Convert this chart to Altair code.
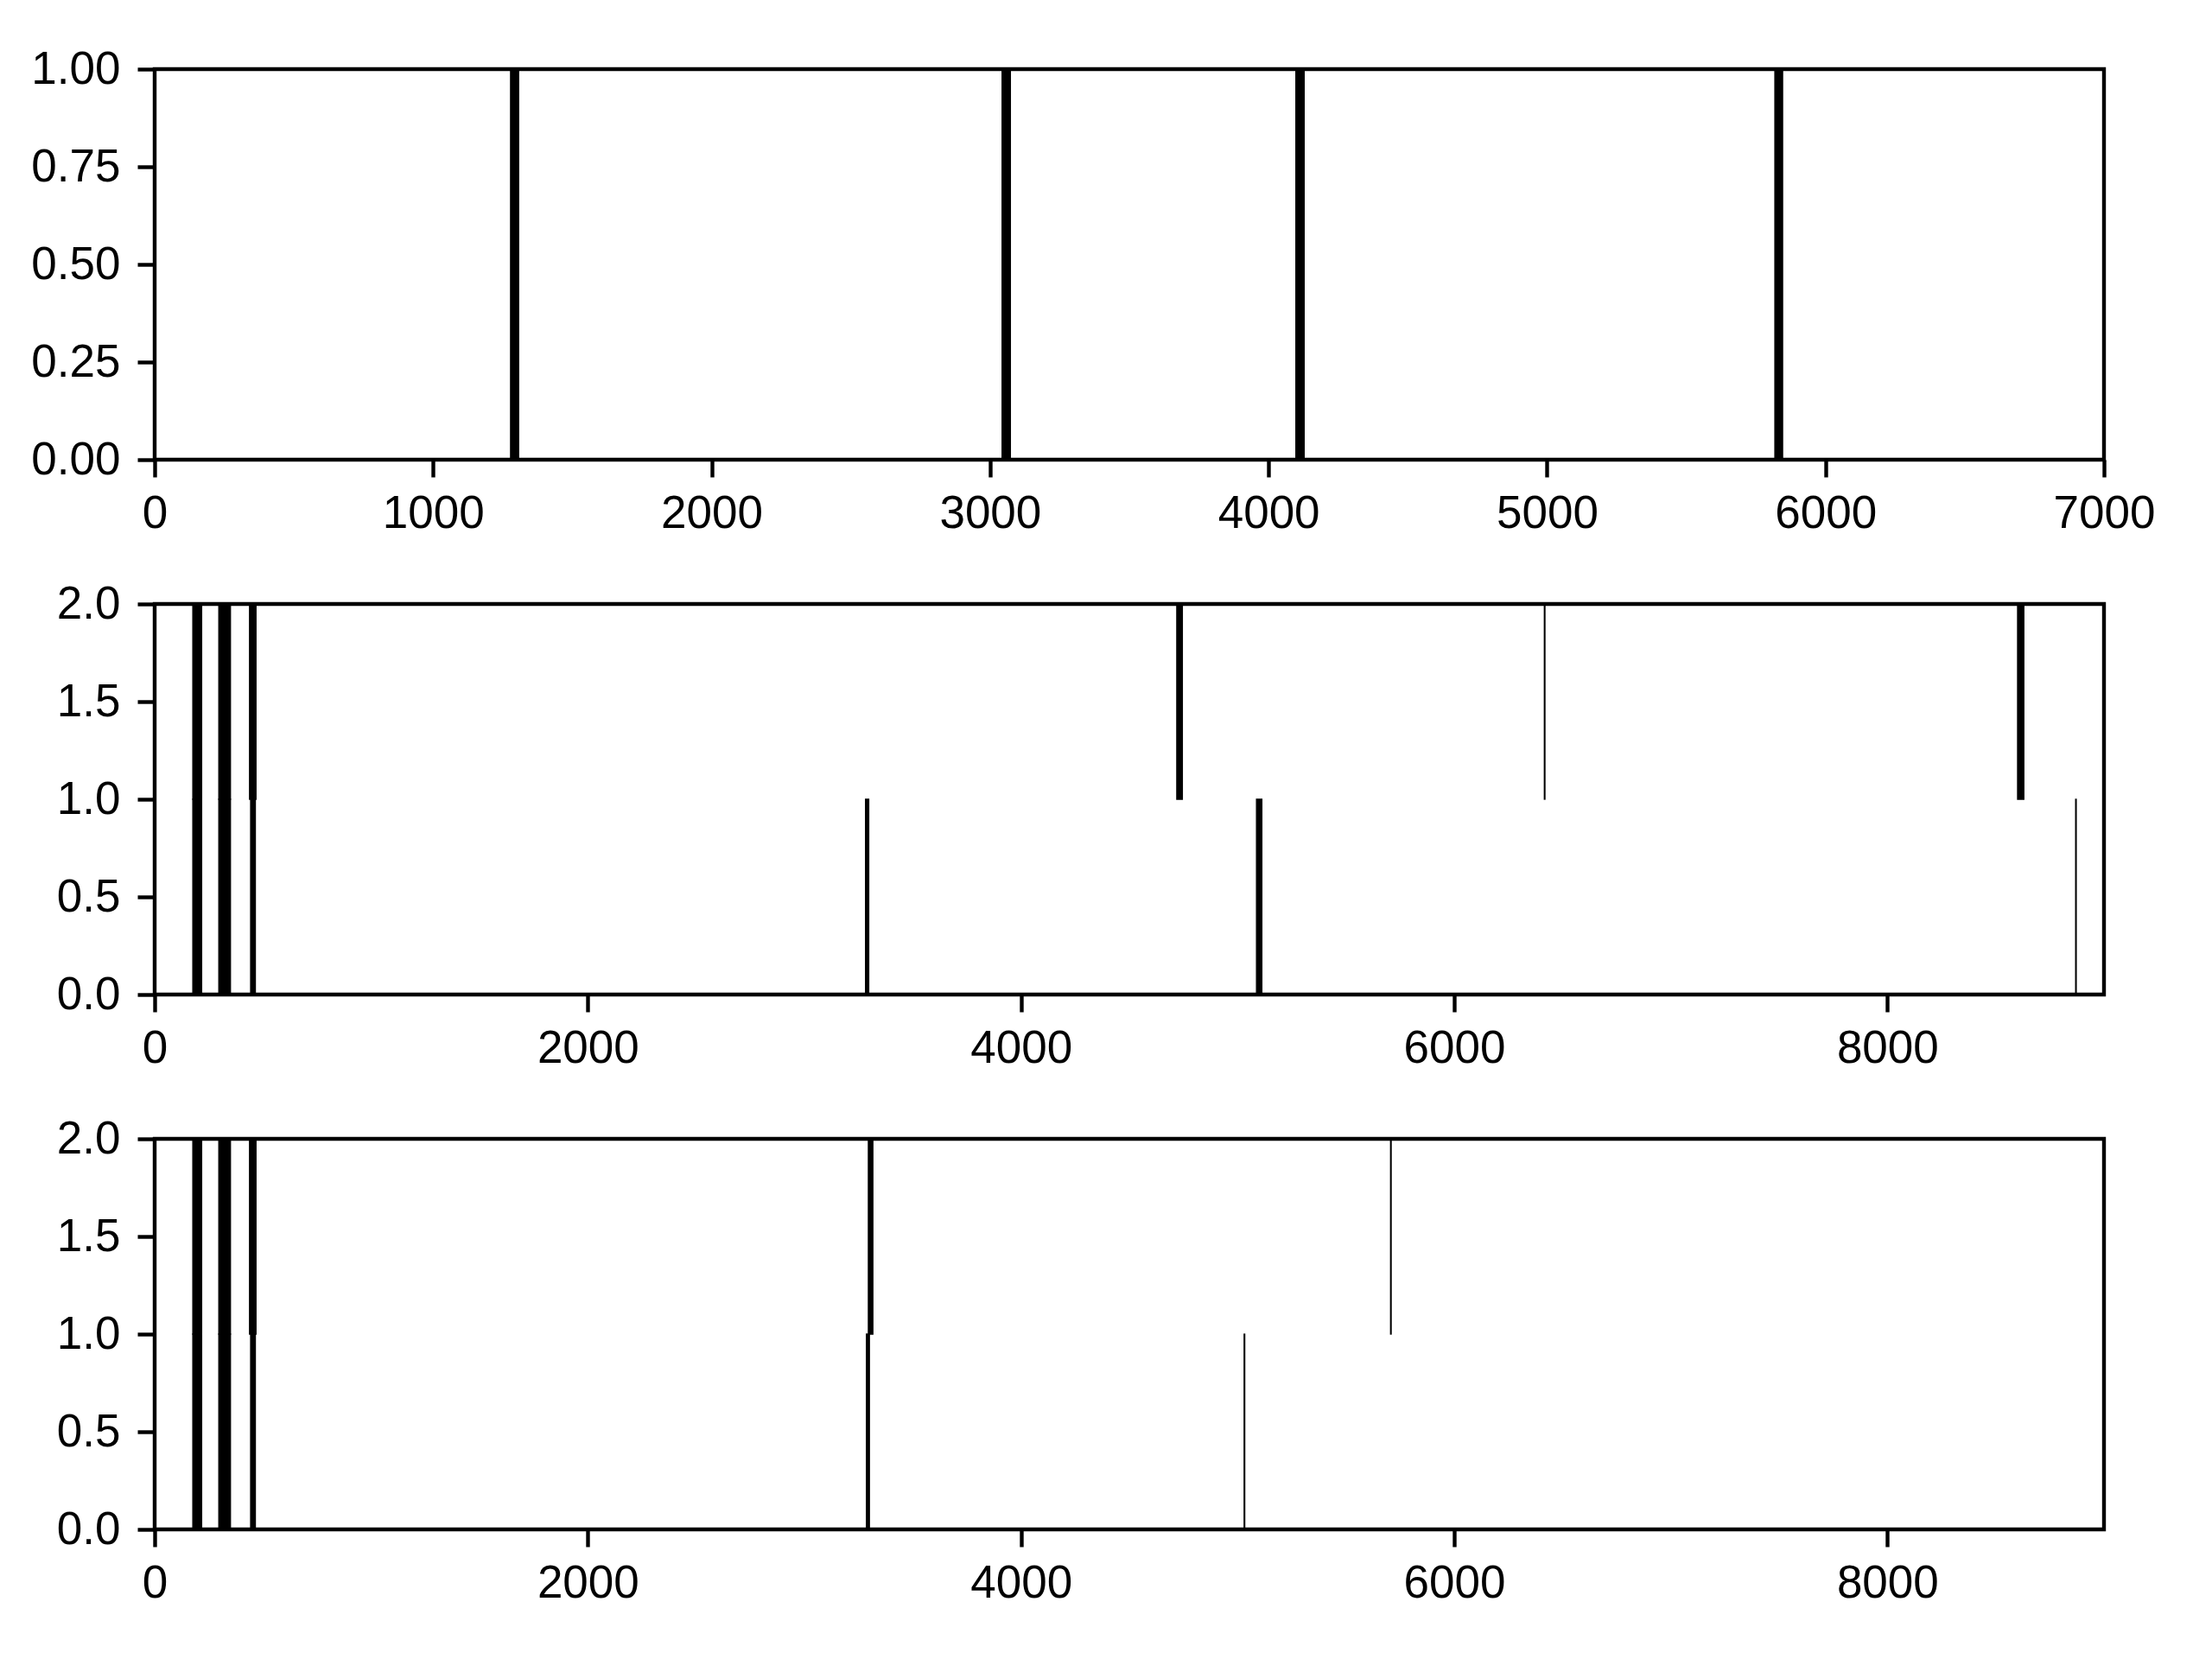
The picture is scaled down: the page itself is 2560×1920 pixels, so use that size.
import altair as alt
import pandas as pd

# ---- data ----
top_start = [1278, 3043, 4098, 5818]
top_end = [1307, 3073, 4128, 5846]

mid_row1_start = [176, 296, 438, 4719, 6416, 8601]
mid_row1_end = [217, 350, 468, 4745, 6419, 8630]
mid_row0_start = [176, 296, 443, 3282, 5087, 8869]
mid_row0_end = [217, 350, 465, 3297, 5112, 8872]

bot_row1_start = [176, 296, 438, 3295, 5706]
bot_row1_end = [217, 350, 468, 3316, 5709]
bot_row0_start = [176, 296, 443, 3286, 5030]
bot_row0_end = [217, 350, 465, 3300, 5033]

top_xticks = [0, 1000, 2000, 3000, 4000, 5000, 6000, 7000]
top_yticks = [0, 0.25, 0.5, 0.75, 1.0]
low_xticks = [0, 2000, 4000, 6000, 8000]
low_yticks = [0, 0.5, 1.0, 1.5, 2.0]

W, H = 2256, 452
FONT = "Liberation Sans"


def rows(starts, ends, y0, y1):
    return [{"x": s, "x2": e, "y": y0, "y2": y1} for s, e in zip(starts, ends)]


top_df = pd.DataFrame(rows(top_start, top_end, 0, 1))
mid_df = pd.DataFrame(rows(mid_row1_start, mid_row1_end, 1, 2) + rows(mid_row0_start, mid_row0_end, 0, 1))
bot_df = pd.DataFrame(rows(bot_row1_start, bot_row1_end, 1, 2) + rows(bot_row0_start, bot_row0_end, 0, 1))


def panel(df, xmax, ymax, xticks, yticks, yfmt):
    return alt.Chart(df).mark_rect(color="black", stroke="black", strokeWidth=1.3).encode(
        x=alt.X("x:Q", scale=alt.Scale(domain=[0, xmax], nice=False, zero=False),
                axis=alt.Axis(values=xticks, format="d", title=None, labelPadding=16)),
        x2="x2:Q",
        y=alt.Y("y:Q", scale=alt.Scale(domain=[0, ymax], nice=False),
                axis=alt.Axis(values=yticks, format=yfmt, title=None)),
        y2="y2:Q",
    ).properties(width=W, height=H)


c1 = panel(top_df, 7000, 1, top_xticks, top_yticks, ".2f")
c2 = panel(mid_df, 9000, 2, low_xticks, low_yticks, ".1f")
c3 = panel(bot_df, 9000, 2, low_xticks, low_yticks, ".1f")

chart = alt.vconcat(c1, c2, c3, spacing=46).properties(
    padding={"left": 33, "top": 51, "right": 60, "bottom": 20},
    background="white",
).configure_view(
    stroke="black", strokeWidth=4.4, fill="white"
).configure_axis(
    grid=False,
    domain=False,
    ticks=True,
    tickColor="black",
    tickSize=20,
    tickWidth=4.4,
    labelFont=FONT,
    labelFontSize=53,
    labelColor="black",
    labelPadding=20,
    labelFlush=False,
    labelOverlap=False,
)

chart.save("out.html", embed_options={"renderer": "svg", "actions": False})
